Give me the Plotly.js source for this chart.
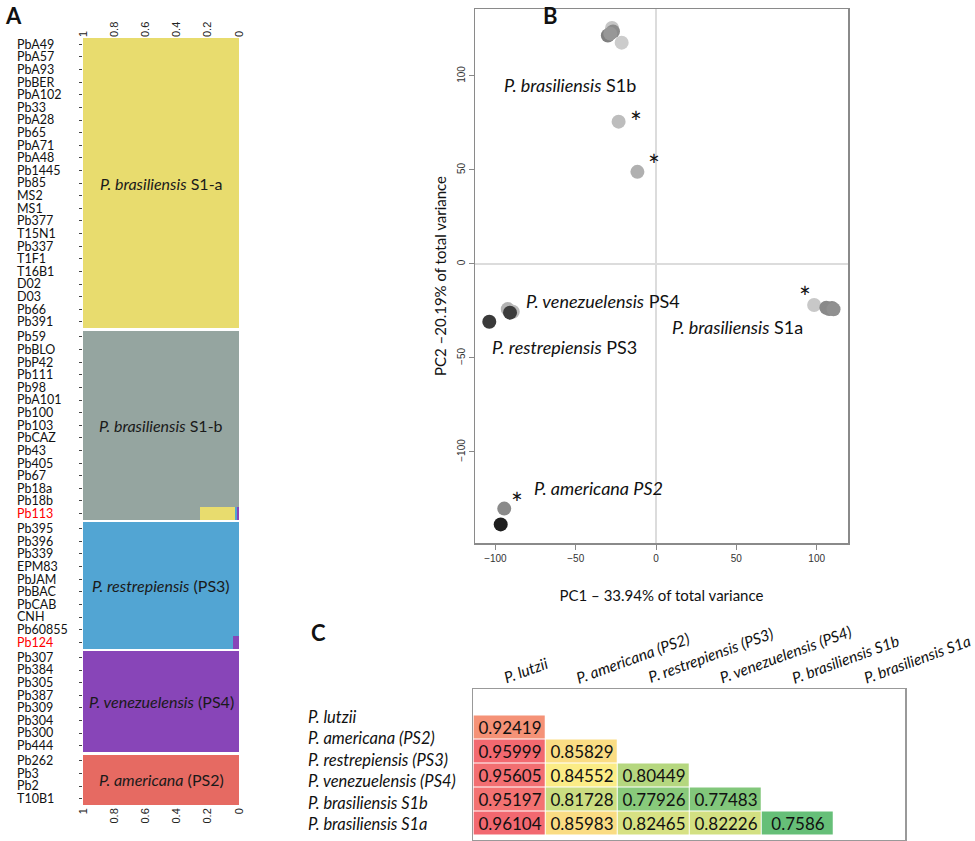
<!DOCTYPE html>
<html><head><meta charset="utf-8">
<script src="https://cdn.plot.ly/plotly-3.0.1.min.js"></script>
<style>html,body{margin:0;padding:0;background:#fff}</style>
</head><body>
<div id="chart" style="width:975px;height:841px"></div>
<script>
// ---------------- Panel A data (STRUCTURE membership) ----------------
const samples = [
  "PbA49","PbA57","PbA93","PbBER","PbA102","Pb33","PbA28","Pb65","PbA71","PbA48",
  "Pb1445","Pb85","MS2","MS1","Pb377","T15N1","Pb337","T1F1","T16B1","D02",
  "D03","Pb66","Pb391","Pb59","PbBLO","PbP42","Pb111","Pb98","PbA101","Pb100",
  "Pb103","PbCAZ","Pb43","Pb405","Pb67","Pb18a","Pb18b","Pb113","Pb395","Pb396",
  "Pb339","EPM83","PbJAM","PbBAC","PbCAB","CNH","Pb60855","Pb124","Pb307","Pb384",
  "Pb305","Pb387","Pb309","Pb304","Pb300","Pb444","Pb262","Pb3","Pb2","T10B1"
];
const groupSizes = [23, 15, 10, 8, 4];
const groupLabels = [
  "<i>P. brasiliensis</i> S1-a",
  "<i>P. brasiliensis</i> S1-b",
  "<i>P. restrepiensis</i> (PS3)",
  "<i>P. venezuelensis</i> (PS4)",
  "<i>P. americana</i> (PS2)"
];
const admixedSamples = ["Pb113", "Pb124"];
const qS1a = [
  1,1,1,1,1,1,1,1,1,1,
  1,1,1,1,1,1,1,1,1,1,
  1,1,1,0,0,0,0,0,0,0,
  0,0,0,0,0,0,0,0.225,0,0,
  0,0,0,0,0,0,0,0,0,0,
  0,0,0,0,0,0,0,0,0,0
];
const qS1b = [
  0,0,0,0,0,0,0,0,0,0,
  0,0,0,0,0,0,0,0,0,0,
  0,0,0,1,1,1,1,1,1,1,
  1,1,1,1,1,1,1,0.75,0,0,
  0,0,0,0,0,0,0,0,0,0,
  0,0,0,0,0,0,0,0,0,0
];
const qPS3 = [
  0,0,0,0,0,0,0,0,0,0,
  0,0,0,0,0,0,0,0,0,0,
  0,0,0,0,0,0,0,0,0,0,
  0,0,0,0,0,0,0,0.013,1,1,
  1,1,1,1,1,1,1,0.96,0,0,
  0,0,0,0,0,0,0,0,0,0
];
const qPS4 = [
  0,0,0,0,0,0,0,0,0,0,
  0,0,0,0,0,0,0,0,0,0,
  0,0,0,0,0,0,0,0,0,0,
  0,0,0,0,0,0,0,0.012,0,0,
  0,0,0,0,0,0,0,0.04,1,1,
  1,1,1,1,1,1,0,0,0,0
];
const qPS2 = [
  0,0,0,0,0,0,0,0,0,0,
  0,0,0,0,0,0,0,0,0,0,
  0,0,0,0,0,0,0,0,0,0,
  0,0,0,0,0,0,0,0,0,0,
  0,0,0,0,0,0,0,0,0,0,
  0,0,0,0,0,0,1,1,1,1
];
const xTicksA = [1, 0.8, 0.6, 0.4, 0.2, 0];
const xTickTextA = ["1", "0.8", "0.6", "0.4", "0.2", "0"];

// ---------------- Panel B data (PCA) ----------------
const pc1 = [-27.4, -30.0, -26.8, -28.5, -21.4, -23.3, -11.6,
             98.4, 106.0, 107.8, 109.5, 110.5,
             -92.3, -89.2, -90.9,
             -103.8,
             -94.5, -96.7];
const pc2 = [125.5, 121.5, 123.6, 122.5, 117.7, 75.7, 49.0,
             -21.8, -23.3, -24.0, -23.4, -24.1,
             -24.0, -25.4, -25.9,
             -30.7,
             -130.1, -138.5];
const pcStarred = [false, false, false, false, false, true, true,
                   true, false, false, false, false,
                   false, false, false,
                   false,
                   true, false];
const pcClusterNames = [
  "<i>P. brasiliensis</i> S1b",
  "<i>P. venezuelensis</i> PS4",
  "<i>P. brasiliensis</i> S1a",
  "<i>P. restrepiensis</i> PS3",
  "<i>P. americana PS2</i>"
];
const pcXTicks = [-100, -50, 0, 50, 100];
const pcYTicks = [-100, -50, 0, 50, 100];

// ---------------- Panel C data (distance matrix) ----------------
const taxa = ["P. lutzii", "P. americana (PS2)", "P. restrepiensis (PS3)",
              "P. venezuelensis (PS4)", "P. brasiliensis S1b", "P. brasiliensis S1a"];
const distAmericana     = [0.92419];
const distRestrepiensis = [0.95999, 0.85829];
const distVenezuelensis = [0.95605, 0.84552, 0.80449];
const distS1b           = [0.95197, 0.81728, 0.77926, 0.77483];
const distS1a           = [0.96104, 0.85983, 0.82465, 0.82226, 0.7586];

// ---------------- styles ----------------
const W = 975, H = 841;
const px = x => x / W;
const py = y => 1 - y / H;
const FONT = "Lato, 'Liberation Sans', sans-serif";
const clusterColors = {S1a: "#e8dc6e", S1b: "#95a5a0", PS3: "#52a5d3", PS4: "#8845b8", PS2: "#e66a62"};
const pcShades = ["#c6c6c6", "#808080", "#8c8c8c", "#979797", "#cccccc", "#bdbdbd", "#b0b0b0",
                  "#c8c8c8", "#8a8a8a", "#8a8a8a", "#8a8a8a", "#909090",
                  "#b3b3b3", "#bbbbbb", "#3c3c3c",
                  "#3a3a3a",
                  "#8a8a8a", "#1e1e1e"];
// asterisk offsets (px) relative to its point, for starred points in order
const starShiftX = [17, 17, -9, 13];
const starShiftY = [0, 7, 8, 6];

// ---------------- Panel A build ----------------
const groupIdx = [];
groupSizes.forEach((n, g) => { for (let k = 0; k < n; k++) groupIdx.push(g); });
const yPos = samples.map((s, i) => i + groupIdx[i] * 0.2);
const yRangeA = [yPos[yPos.length - 1] + 0.5, -0.5];
const tickTextA = samples.map(s => admixedSamples.includes(s) ? `<span style="color:#ff0000">${s}</span>` : s);

const traces = [];
const stackOrder = [["PS4", qPS4], ["PS3", qPS3], ["S1a", qS1a], ["S1b", qS1b], ["PS2", qPS2]];
stackOrder.forEach(([name, q]) => {
  traces.push({
    type: "bar", orientation: "h", name: name,
    x: q, y: yPos, width: 1,
    xaxis: "x", yaxis: "y",
    marker: {color: clusterColors[name], line: {width: 0}},
    hoverinfo: "skip"
  });
});
// invisible companion trace so that the top axis and the left-aligned label axis are drawn
traces.push({
  type: "scatter", mode: "markers", x: qS1a, y: yPos,
  xaxis: "x2", yaxis: "y2", marker: {size: 1, opacity: 0}, hoverinfo: "skip", showlegend: false
});

// ---------------- Panel B build ----------------
traces.push({
  type: "scatter", mode: "markers",
  x: pc1, y: pc2,
  marker: {size: 14, color: pcShades, line: {width: 0}},
  xaxis: "x3", yaxis: "y3", cliponaxis: false, hoverinfo: "skip"
});

// ---------------- Panel C build ----------------
const distRows = [distAmericana, distRestrepiensis, distVenezuelensis, distS1b, distS1a];
const nCol = 5;
const zC = distRows.map(r => Array.from({length: nCol}, (_, j) => j < r.length ? r[j] : null));
const tC = distRows.map(r => Array.from({length: nCol}, (_, j) => j < r.length ? String(r[j]) : ""));
const allD = distRows.flat().slice().sort((a, b) => a - b);
const dMin = allD[0], dMax = allD[allD.length - 1], dMed = allD[Math.floor(allD.length / 2)];
const midStop = (dMed - dMin) / (dMax - dMin);
traces.push({
  type: "heatmap",
  x: [0, 1, 2, 3, 4], y: [0, 1, 2, 3, 4], z: zC,
  text: tC, texttemplate: "%{text}",
  textfont: {family: FONT, size: 17, color: "#111"},
  zmin: dMin, zmax: dMax,
  colorscale: [[0, "#66bf78"], [midStop, "#fbec86"], [1, "#f26870"]],
  showscale: false, xgap: 1, ygap: 1,
  xaxis: "x4", yaxis: "y4", hoverinfo: "skip"
});

// ---------------- annotations ----------------
const ann = [];
// panel letters
const letterFont = {family: FONT, size: 22, color: "#111"};
ann.push({text: "<b>A</b>", x: px(3), y: py(0), xref: "paper", yref: "paper", xanchor: "left", yanchor: "top", showarrow: false, font: letterFont});
ann.push({text: "<b>B</b>", x: px(541), y: py(0), xref: "paper", yref: "paper", xanchor: "left", yanchor: "top", showarrow: false, font: letterFont});
ann.push({text: "<b>C</b>", x: px(309), y: py(620), xref: "paper", yref: "paper", xanchor: "left", yanchor: "top", yshift: 3, showarrow: false, font: letterFont});
// panel A group labels
let start = 0;
groupSizes.forEach((n, g) => {
  const mid = (yPos[start] + yPos[start + n - 1]) / 2;
  ann.push({text: groupLabels[g], x: 0.5, y: mid, xref: "x", yref: "y", showarrow: false,
            font: {family: FONT, size: 16, color: "#1a1a1a"}});
  start += n;
});
// panel B asterisks on starred points
let sk = 0;
pc1.forEach((x, i) => {
  if (!pcStarred[i]) return;
  ann.push({text: "*", x: x, y: pc2[i], xref: "x3", yref: "y3", showarrow: false,
            xshift: starShiftX[sk], yshift: starShiftY[sk],
            font: {family: FONT, size: 28, color: "#111"}});
  sk++;
});
// panel B cluster labels
const pcLabelX = [-53.5, -33, 51, -56.7, -36.1];
const pcLabelY = [95.2, -19.7, -33.5, -44, -119.1];
pcClusterNames.forEach((t, k) => {
  ann.push({text: t, x: pcLabelX[k], y: pcLabelY[k], xref: "x3", yref: "y3", showarrow: false,
            font: {family: FONT, size: 18, color: "#111"}});
});
// panel C row labels
taxa.forEach((t, k) => {
  ann.push({text: `<i>${t}</i>`, x: px(306), y: py(717 + k * 21.4), xref: "paper", yref: "paper",
            xanchor: "left", yanchor: "middle", showarrow: false, font: {family: FONT, size: 16.5, color: "#111"}});
});
// panel C column labels
taxa.forEach((t, k) => {
  ann.push({text: `<i>${t}</i>`, x: k - 0.15, y: py(689), xref: "x4", yref: "paper",
            xanchor: "left", yanchor: "bottom", textangle: -20, showarrow: false,
            font: {family: FONT, size: 15.5, color: "#111"}});
});

const tickFontA = {family: "'Liberation Sans', sans-serif", size: 11, color: "#222"};
const layout = {
  width: W, height: H,
  margin: {l: 0, r: 0, t: 0, b: 0},
  paper_bgcolor: "#fff", plot_bgcolor: "rgba(0,0,0,0)",
  showlegend: false, hovermode: false,
  barmode: "stack", bargap: 0,
  font: {family: FONT, size: 13, color: "#111"},
  // Panel A
  xaxis: {domain: [px(83), px(239)], range: [1, 0], anchor: "y", side: "bottom",
          tickmode: "array", tickvals: xTicksA, ticktext: xTickTextA, tickangle: -90,
          ticks: "", showgrid: false, zeroline: false, showline: false, tickfont: tickFontA, automargin: false},
  xaxis2: {overlaying: "x", range: [1, 0], anchor: "y", side: "top",
           tickmode: "array", tickvals: xTicksA, ticktext: xTickTextA, tickangle: -90,
           ticks: "", showgrid: false, zeroline: false, showline: false, tickfont: tickFontA, automargin: false},
  yaxis: {domain: [py(805), py(38)], range: yRangeA, anchor: "x",
          tickmode: "array", tickvals: yPos, ticks: "outside", ticklen: 3, tickwidth: 1, tickcolor: "#444",
          showticklabels: false, showgrid: false, zeroline: false, showline: false, automargin: false},
  yaxis2: {overlaying: "y", range: yRangeA, anchor: "free", side: "right", position: px(16),
           tickmode: "array", tickvals: yPos, ticktext: tickTextA, ticks: "",
           showgrid: false, zeroline: false, showline: false, automargin: false,
           tickfont: {family: FONT, size: 12.5, color: "#111"}},
  // Panel B
  xaxis3: {domain: [px(475), px(848)], range: [-112.7, 119.5], anchor: "y3",
           tickmode: "array", tickvals: pcXTicks, ticks: "outside", ticklen: 5, tickcolor: "#888",
           showline: true, mirror: true, linecolor: "#8a8a8a", linewidth: 1.5,
           zeroline: true, zerolinecolor: "#dcdcdc", zerolinewidth: 1.5, showgrid: false,
           tickfont: {family: "'Liberation Sans', sans-serif", size: 10, color: "#333"}, automargin: false,
           title: {text: "PC1 \u2013 33.94% of total variance", font: {family: FONT, size: 15, color: "#111"}, standoff: 28}},
  yaxis3: {domain: [py(543), py(9)], range: [-148.4, 135.6], anchor: "x3",
           tickmode: "array", tickvals: pcYTicks, ticks: "outside", ticklen: 5, tickcolor: "#888", tickangle: -90,
           showline: true, mirror: true, linecolor: "#8a8a8a", linewidth: 1.5,
           zeroline: true, zerolinecolor: "#dcdcdc", zerolinewidth: 1.5, showgrid: false,
           tickfont: {family: "'Liberation Sans', sans-serif", size: 10, color: "#333"}, automargin: false,
           title: {text: "PC2 \u201320.19% of total variance", font: {family: FONT, size: 15, color: "#111"}, standoff: 5}},
  // Panel C
  xaxis4: {domain: [px(473), px(905)], range: [-0.51, 5.49], anchor: "y4",
           showticklabels: false, ticks: "", showgrid: false, zeroline: false,
           showline: true, mirror: true, linecolor: "#999", linewidth: 1.5, automargin: false},
  yaxis4: {domain: [py(840), py(689)], range: [4.6875, -1.604], anchor: "x4",
           showticklabels: false, ticks: "", showgrid: false, zeroline: false,
           showline: true, mirror: true, linecolor: "#999", linewidth: 1.5, automargin: false},
  annotations: ann
};

Plotly.newPlot("chart", traces, layout, {staticPlot: true, displayModeBar: false});
</script>
</body></html>
